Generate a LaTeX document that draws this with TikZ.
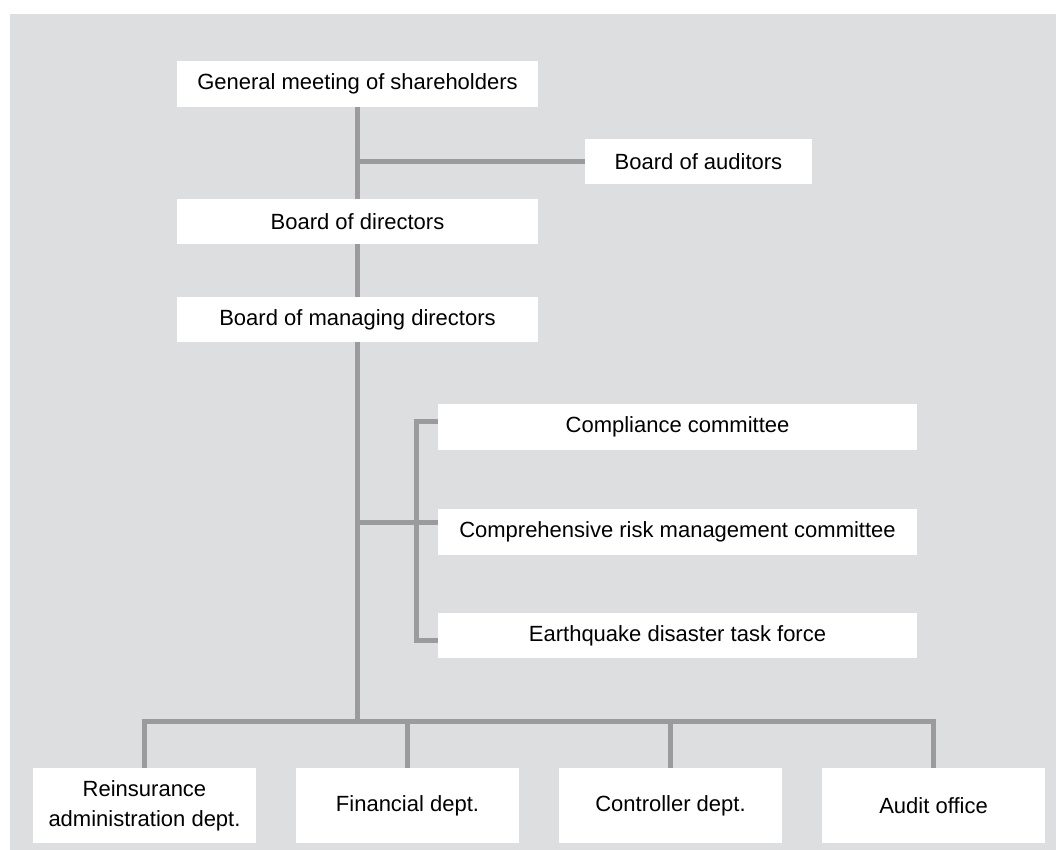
\documentclass[tikz,border=0pt]{standalone}
\usepackage{fontspec}
\setmainfont{Liberation Sans}
\definecolor{pohja}{RGB}{221,222,224}
\definecolor{viiva}{RGB}{155,155,157}
\begin{document}
\begin{tikzpicture}[x=1pt, y=-1pt,
      laatikko/.style={fill=white, inner sep=0pt, align=center,
        font=\fontsize{22}{30}\selectfont},
      yhteys/.style={line width=5pt, draw=viiva, line join=miter}]

      % Tausta
      \useasboundingbox (0,0) rectangle (1056,850);
      \fill [pohja] (10,14) rectangle (1056,850);

      % Johto
      \node [laatikko, minimum width=361pt, minimum height=46pt] (gm) at (357.5,84) {General meeting of shareholders};
      \node [laatikko, minimum width=227pt, minimum height=45pt] (aud) at (698.5,161.5) {Board of auditors};
      \node [laatikko, minimum width=361pt, minimum height=45pt] (dir) at (357.5,221.5) {Board of directors};
      \node [laatikko, minimum width=361pt, minimum height=45pt] (mgmt) at (357.5,319.5) {Board of managing directors};

      % Komiteat
      \node [laatikko, minimum width=479pt, minimum height=46pt] (comp) at (677.5,427) {Compliance committee};
      \node [laatikko, minimum width=479pt, minimum height=46pt] (risk) at (677.5,532) {Comprehensive risk management committee};
      \node [laatikko, minimum width=479pt, minimum height=45pt] (quake) at (677.5,635.5) {Earthquake disaster task force};

      % Osastot
      \node [laatikko, minimum width=223pt, minimum height=75pt] (reins) at (144.5,805.5) {Reinsurance\\administration dept.};
      \node [laatikko, minimum width=223pt, minimum height=75pt] (fin) at (407.5,805.5) {Financial dept.};
      \node [laatikko, minimum width=223pt, minimum height=75pt] (ctrl) at (670.5,805.5) {Controller dept.};
      \node [laatikko, minimum width=223pt, minimum height=75pt] (audit) at (933.5,805.5) {Audit office};

      % Apupisteet
      \coordinate (bus) at (0,721.5);
      \coordinate (hakaY) at (416.5,421);
      \coordinate (hakaA) at (416.5,640);

      % Rungon viivat
      \draw [yhteys] (gm.south) -- (dir.north);
      \draw [yhteys] (dir.south) -- (mgmt.north);
      \draw [yhteys] (mgmt.south) -- (mgmt.south |- bus);
      \draw [yhteys] (gm.south |- aud.west) -- (aud.west);

      % Komiteoiden haka
      \draw [yhteys] (comp.west |- hakaY) -- (hakaY) -- (hakaA) -- (quake.west |- hakaA);
      \draw [yhteys] (mgmt.south |- 0,522) -- (risk.west |- 0,522);

      % Osastojen viivat
      \draw [yhteys] (reins.north) -- (reins.north |- bus) -- (audit.north |- bus) -- (audit.north);
      \foreach \osasto in {fin, ctrl}
        \draw [yhteys] (\osasto.north) -- (\osasto.north |- bus);
    \end{tikzpicture}
\end{document}
